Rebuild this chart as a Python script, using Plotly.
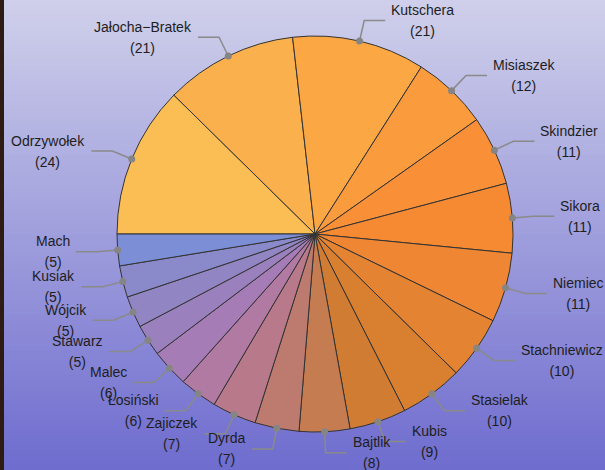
import math
import plotly.graph_objects as go

names = ["Odrzywołek", "Jałocha−Bratek", "Kutschera", "Misiaszek", "Skindzier", "Sikora",
         "Niemiec", "Stachniewicz", "Stasielak", "Kubis", "Bajtlik", "Dyrda", "Zajiczek",
         "Łosiński", "Malec", "Stawarz", "Wójcik", "Kusiak", "Mach"]
values = [24, 21, 21, 12, 11, 11, 11, 10, 10, 9, 8, 7, 7, 6, 6, 5, 5, 5, 5]
colors = ["#FBBE55", "#FAB04D", "#FBA844", "#FA9B3D", "#F98F36", "#F68A33", "#EE8633",
          "#E48331", "#D97F30", "#D07D33", "#C57C50", "#BD7A6E", "#B87A8A", "#B07AA2",
          "#A67CB7", "#9B80BE", "#9285C3", "#8A89C9", "#7C8ED6"]

W, H = 605, 470
CX, CY, R = 315, 234, 198


def px(x):
    return x / W


def py(y):
    return 1 - y / H


fig = go.Figure()
fig.add_trace(go.Pie(
    labels=names, values=values, sort=False, direction="clockwise", rotation=-90,
    marker=dict(colors=colors, line=dict(color="#333333", width=1)),
    textinfo="none", hoverinfo="label+value", showlegend=False,
    domain=dict(x=[px(CX - R), px(CX + R)], y=[py(CY + R), py(CY - R)]),
))

shapes = []
# background gradient
N = 94
top = (208, 208, 235)
bot = (110, 108, 206)
for i in range(N):
    t = (i + 0.5) / N
    c = tuple(int(round(top[k] + (bot[k] - top[k]) * t)) for k in range(3))
    shapes.append(dict(type="rect", xref="paper", yref="paper", layer="below",
                       x0=0, x1=1, y0=1 - i / N, y1=1 - (i + 1) / N,
                       fillcolor="rgb(%d,%d,%d)" % c, line=dict(width=0)))
# dark strip at left edge
shapes.append(dict(type="rect", xref="paper", yref="paper", layer="below",
                   x0=0, x1=px(4), y0=0, y1=1, fillcolor="#2e1c14", line=dict(width=0)))

annotations = []
total = sum(values)
cum = 0
for n, v in zip(names, values):
    mid = cum + v / 2
    cum += v
    ang = math.radians(180 + mid / total * 360)  # screen angle, clockwise from +x
    c, s = math.cos(ang), math.sin(ang)
    dx, dy = CX + R * c, CY + R * s
    bx, by = CX + (R + 21) * c, CY + (R + 21) * s
    right = c >= 0
    ex = bx + (21 if right else -21)
    shapes.append(dict(type="path", xref="paper", yref="paper", layer="above",
                       path="M %f,%f L %f,%f L %f,%f" % (px(ex), py(by), px(bx), py(by), px(dx), py(dy)),
                       line=dict(color="#8a8a8a", width=1.5)))
    rr = 3.5
    shapes.append(dict(type="circle", xref="paper", yref="paper", layer="above",
                       x0=px(dx - rr), x1=px(dx + rr), y0=py(dy + rr), y1=py(dy - rr),
                       fillcolor="#858585", line=dict(width=0)))
    txt = "<span style='font-size:14px'>%s</span><br><span style='font-size:14px'>(%d)</span>" % (n, v)
    annotations.append(dict(x=px(ex + (4 if right else -4)), y=py(by), xref="paper", yref="paper",
                            text=txt, showarrow=False,
                            xanchor="left" if right else "right", yanchor="middle", align="center",
                            font=dict(family="Liberation Sans, Arial", size=16, color="#1e1e1e")))

fig.update_layout(
    width=W, height=H, margin=dict(l=0, r=0, t=0, b=0),
    paper_bgcolor="#9f9edd", plot_bgcolor="rgba(0,0,0,0)",
    shapes=shapes, annotations=annotations, showlegend=False,
)
fig.write_html("out.html")
